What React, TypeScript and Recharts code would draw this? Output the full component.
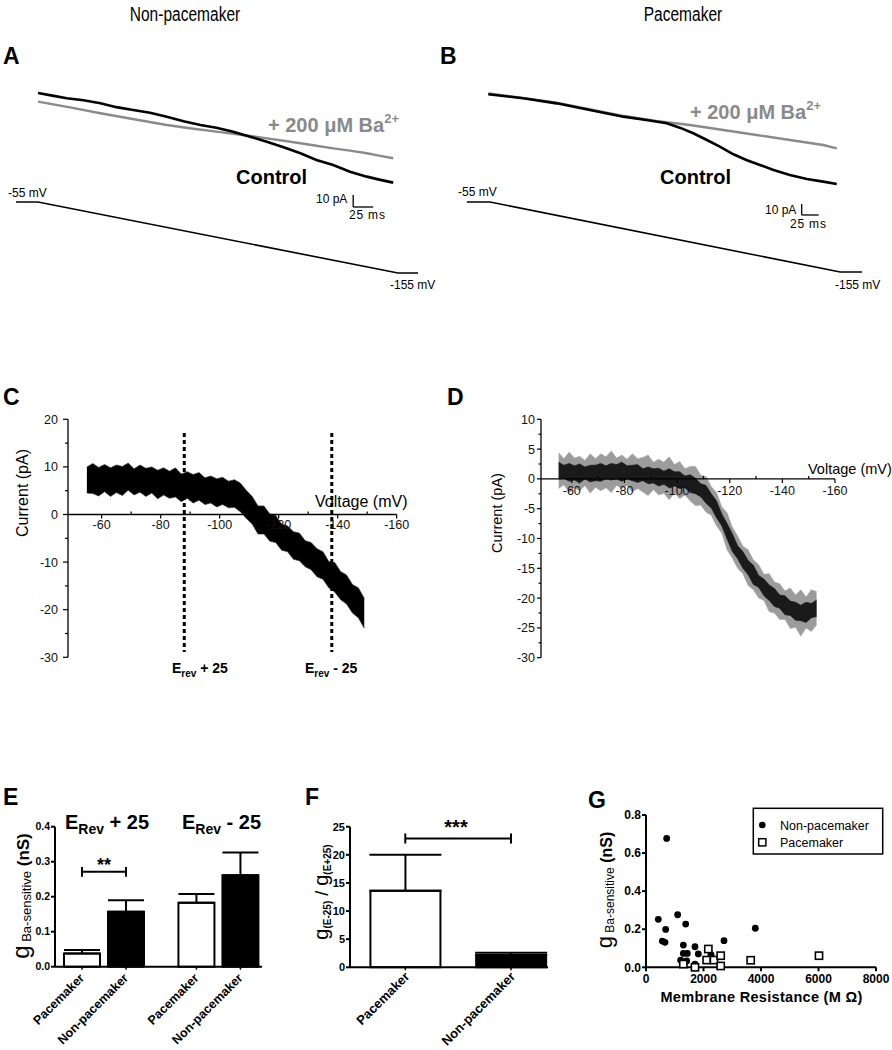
import React from "react";
import {
  Area,
  Bar,
  BarChart,
  Cell,
  ComposedChart,
  ErrorBar,
  Line,
  LineChart,
  ReferenceDot,
  ReferenceLine,
  Scatter,
  ScatterChart,
  XAxis,
  YAxis,
} from "recharts";

const FONT = "'Liberation Sans', Arial, Helvetica, sans-serif";

// ---- A: non-pacemaker ramp currents (t in ms from ramp start, I in pA, relative)
const aControlT = [0, 18, 36, 57, 78, 98, 119, 140, 161, 182, 203, 223, 244, 265, 286, 307, 328, 348, 369, 390, 411, 428, 444];
const aControlI = [0, -2.2, -4.4, -6.0, -8.6, -11.8, -14.2, -16.4, -19.7, -23.6, -26.7, -29.0, -32.2, -36.4, -40.6, -45.2, -50.2, -55.8, -60.0, -65.6, -69.7, -72.4, -74.7];
const aBariumT = [0, 40, 78, 120, 161, 192, 223, 244, 265, 286, 307, 328, 348, 369, 390, 411, 428, 444];
const aBariumI = [-7.2, -12.0, -16.9, -21.9, -26.7, -29.6, -32.2, -34.0, -35.8, -37.8, -39.8, -41.9, -44.0, -46.1, -48.0, -50.2, -52.4, -54.4];

// ---- B: pacemaker ramp currents
const bControlT = [-2.5, 49, 98, 147, 196, 230, 260, 279, 299, 319, 338, 358, 377, 397, 417, 441, 466, 490, 510];
const bControlI = [-0.3, -3.9, -8.5, -14.5, -20.6, -23.6, -26.6, -30.6, -35.7, -41.8, -47.9, -54.8, -60.0, -64.5, -69.1, -73.6, -77.3, -79.7, -81.8];
const bBariumT = [-2.5, 98, 196, 245, 294, 343, 392, 441, 490, 510];
const bBariumI = [0.6, -7.9, -20.0, -24.5, -28.2, -32.7, -37.3, -41.8, -46.4, -49.4];

// voltage command: hold -55 mV, ramp to -155 mV
const rampV = [-55, -55, -155, -155];
const aRampT = [-27.5, 0, 450, 475];
const bRampT = [-34, 0, 515, 547];

// ---- C: non-pacemaker Ba-sensitive I-V
const cVolt = [-55, -57, -59, -61, -63, -65, -67, -69, -71, -73, -75, -77, -79, -81, -83, -85, -87, -89, -91, -93, -95, -97, -99, -101, -103, -105, -107, -109, -111, -113, -115, -117, -119, -121, -123, -125, -127, -129, -131, -133, -135, -137, -139, -141, -143, -145, -147, -149];
const cMean = [7.0, 7.2, 7.3, 7.3, 7.4, 7.4, 7.5, 7.5, 7.4, 7.3, 7.2, 7.0, 6.9, 6.7, 6.6, 6.4, 6.2, 6.0, 5.8, 5.5, 5.3, 5.1, 4.9, 4.7, 4.5, 4.3, 3.9, 2.2, 0.6, -0.8, -1.6, -2.4, -3.3, -4.4, -5.3, -6.2, -7.1, -8.0, -8.9, -9.8, -11.0, -12.3, -13.6, -14.7, -16.0, -17.3, -18.8, -20.4];
const cHi = [3.0, 3.5, 2.6, 3.2, 2.4, 3.0, 2.6, 3.3, 2.2, 3.1, 2.5, 3.0, 2.4, 3.1, 2.5, 3.4, 2.3, 3.0, 2.6, 3.3, 2.4, 3.0, 2.6, 3.1, 2.5, 3.0, 2.7, 2.9, 3.2, 2.6, 3.4, 2.5, 3.1, 2.4, 2.9, 2.6, 3.2, 2.5, 3.0, 2.6, 3.2, 2.4, 3.5, 2.7, 3.3, 2.6, 3.4, 2.8];
const cLo = [2.5, 2.8, 3.4, 2.5, 3.6, 2.8, 3.5, 2.4, 3.3, 2.6, 3.4, 2.5, 3.6, 2.6, 3.2, 2.7, 3.5, 2.6, 3.4, 2.5, 3.2, 2.7, 3.3, 2.6, 3.1, 2.8, 3.3, 3.0, 2.6, 3.3, 2.5, 3.2, 2.6, 3.1, 2.5, 3.2, 2.6, 3.0, 2.7, 3.3, 2.6, 3.1, 2.7, 3.2, 2.8, 3.4, 2.9, 3.5];
const cErevLines = [-88, -138];

// ---- D: pacemaker Ba-sensitive I-V
const dVolt = [-55, -57, -59, -61, -63, -65, -67, -69, -71, -73, -75, -77, -79, -81, -83, -85, -87, -89, -91, -93, -95, -97, -99, -101, -103, -105, -107, -109, -111, -113, -115, -117, -119, -121, -123, -125, -127, -129, -131, -133, -135, -137, -139, -141, -143, -145, -147, -149, -151, -153];
const dMean = [1.4, 1.2, 1.1, 1.0, 0.9, 1.0, 0.9, 1.0, 1.1, 1.1, 1.2, 1.2, 1.2, 1.1, 1.0, 0.9, 0.7, 0.6, 0.5, 0.3, 0.2, 0.1, 0.0, -0.2, -0.5, -0.8, -1.2, -1.9, -2.6, -3.7, -5.1, -6.9, -8.8, -10.7, -12.3, -13.6, -14.9, -16.1, -17.2, -18.2, -19.1, -19.9, -20.6, -21.2, -21.7, -22.2, -22.5, -22.4, -22.1, -21.7];
const dCore = [1.4, 1.1, 1.5, 1.2, 1.6, 1.0, 1.4, 1.3, 1.5, 1.1, 1.4, 1.2, 1.6, 1.1, 1.3, 1.5, 1.0, 1.4, 1.2, 1.5, 1.1, 1.6, 1.2, 1.4, 1.0, 1.5, 1.3, 1.1, 1.5, 1.2, 1.4, 1.0, 1.3, 1.5, 1.1, 1.4, 1.2, 1.6, 1.0, 1.4, 1.3, 1.5, 1.1, 1.6, 1.2, 1.5, 1.3, 1.7, 1.2, 1.4];
const dFuzz = [3.0, 2.2, 3.4, 2.5, 2.9, 2.1, 3.3, 2.4, 3.1, 2.6, 3.5, 2.3, 2.8, 2.2, 3.2, 2.5, 2.9, 3.4, 2.3, 3.0, 2.6, 3.6, 2.4, 3.1, 2.2, 2.9, 3.3, 2.5, 3.0, 2.4, 2.8, 2.2, 3.1, 2.6, 2.7, 2.3, 3.0, 2.5, 2.8, 2.2, 3.2, 2.6, 3.0, 2.4, 3.4, 2.7, 3.9, 2.6, 3.5, 2.8];

// ---- E: Ba-sensitive conductance at Erev+25 and Erev-25
const eLabels = ["Pacemaker", "Non-pacemaker", "Pacemaker", "Non-pacemaker"];
const ePos = [0, 1, 2.6, 3.6];
const eMean = [0.038, 0.157, 0.183, 0.261];
const eSem = [0.01, 0.033, 0.025, 0.065];
const eFill = ["#ffffff", "#000000", "#ffffff", "#000000"];

// ---- F: conductance ratio
const fLabels = ["Pacemaker", "Non-pacemaker"];
const fPos = [0, 1];
const fMean = [13.6, 2.2];
const fSem = [6.4, 0.4];
const fFill = ["#ffffff", "#000000"];

// ---- G: conductance vs membrane resistance
const npR = [428, 719, 568, 661, 684, 1101, 1380, 1299, 1704, 1299, 1437, 1820, 2261, 2713, 3802, 1206, 1415, 1704];
const npG = [0.252, 0.677, 0.138, 0.131, 0.199, 0.276, 0.227, 0.117, 0.108, 0.073, 0.073, 0.07, 0.066, 0.14, 0.205, 0.037, 0.033, 0.017];
const pR = [1299, 1704, 2168, 2110, 2365, 2598, 2598, 3641, 6017];
const pG = [0.017, 0.0, 0.096, 0.038, 0.038, 0.061, 0.007, 0.037, 0.061];

const zip = (xs: number[], ys: number[], xk: string, yk: string) =>
  xs.map((x, k) => ({ [xk]: x, [yk]: ys[k] }));

function yTick(gap: number, majorEvery: number, majorLen: number, minorLen: number, fontSize: number) {
  return (p: any) => {
    const v = p.payload.value as number;
    const major = Math.abs(v % majorEvery) < 1e-6;
    const ax = p.x + gap;
    return (
      <g>
        <line x1={ax} x2={ax - (major ? majorLen : minorLen)} y1={p.y} y2={p.y} stroke="#000" strokeWidth={1.2} />
        {major && (
          <text x={p.x} y={p.y + fontSize * 0.36} textAnchor="end" fontSize={fontSize} fontFamily={FONT} fill="#111">
            {v}
          </text>
        )}
      </g>
    );
  };
}

function xTickDot(label: string | null, len: number, dy: number, fontSize: number) {
  return (p: any) => (
    <g>
      <line x1={p.cx} x2={p.cx} y1={p.cy} y2={p.cy + len} stroke="#000" strokeWidth={1.2} />
      {label && (
        <text x={p.cx} y={p.cy + dy} textAnchor="middle" fontSize={fontSize} fontFamily={FONT} fill="#111">
          {label}
        </text>
      )}
    </g>
  );
}

function slantTick(labels: string[], positions: number[], fontSize: number, dx: number, dy: number) {
  return (p: any) => {
    const idx = positions.indexOf(p.payload.value);
    const x = p.x + dx;
    const y = p.y + dy;
    return (
      <text x={x} y={y} transform={`rotate(-45 ${x} ${y})`} textAnchor="end" fontSize={fontSize} fontWeight="bold" fontFamily={FONT} fill="#000">
        {labels[idx]}
      </text>
    );
  };
}

type TraceProps = {
  left: number;
  width: number;
  xDomain: [number, number];
  iDomain: [number, number];
  vDomain: [number, number];
  control: { t: number; i: number }[];
  barium: { t: number; i: number }[];
  ramp: { t: number; v: number }[];
  barT: number;
  barI: number;
};

function TracePanel({ left, width, xDomain, iDomain, vDomain, control, barium, ramp, barT, barI }: TraceProps) {
  return (
    <div style={{ position: "absolute", left, top: 80 }}>
      <LineChart width={width} height={220} margin={{ top: 0, right: 0, bottom: 0, left: 0 }}>
        <XAxis type="number" dataKey="t" domain={xDomain} hide allowDataOverflow />
        <YAxis yAxisId="i" type="number" domain={iDomain} hide allowDataOverflow />
        <YAxis yAxisId="v" type="number" domain={vDomain} hide allowDataOverflow />
        <Line yAxisId="v" data={ramp} dataKey="v" stroke="#000" strokeWidth={1.6} dot={false} isAnimationActive={false} />
        <Line yAxisId="i" data={barium} dataKey="i" stroke="#8a8a8a" strokeWidth={2.4} dot={false} isAnimationActive={false} />
        <Line yAxisId="i" data={control} dataKey="i" stroke="#000" strokeWidth={2.6} dot={false} isAnimationActive={false} />
        <ReferenceLine yAxisId="i" segment={[{ x: barT, y: barI }, { x: barT, y: barI - 10 }]} stroke="#000" strokeWidth={1.3} />
        <ReferenceLine yAxisId="i" segment={[{ x: barT, y: barI - 10 }, { x: barT + 25, y: barI - 10 }]} stroke="#000" strokeWidth={1.3} />
      </LineChart>
    </div>
  );
}

function Sub({ x, y, main, sub, rest, size, subSize, shift }: any) {
  return (
    <text x={x} y={y} fontFamily={FONT} fontWeight="bold" fontSize={size} fill="#000">
      {main}
      <tspan fontSize={subSize} dy={shift}>{sub}</tspan>
      <tspan fontSize={size} dy={-shift}>{rest}</tspan>
    </text>
  );
}

export default function App() {
  const aControl = aControlT.map((t, k) => ({ t, i: aControlI[k] }));
  const aBarium = aBariumT.map((t, k) => ({ t, i: aBariumI[k] }));
  const bControl = bControlT.map((t, k) => ({ t, i: bControlI[k] }));
  const bBarium = bBariumT.map((t, k) => ({ t, i: bBariumI[k] }));
  const aRamp = aRampT.map((t, k) => ({ t, v: rampV[k] }));
  const bRamp = bRampT.map((t, k) => ({ t, v: rampV[k] }));

  const cRows = cVolt.map((v, k) => ({ v, band: [cMean[k] - cLo[k], cMean[k] + cHi[k]] }));
  const dRows = dVolt.map((v, k) => ({
    v,
    fuzz: [dMean[k] - dFuzz[k], dMean[k] + dFuzz[k]],
    core: [dMean[k] - dCore[k], dMean[k] + dCore[k]],
  }));

  const eRows = ePos.map((pos, k) => ({ pos, mean: eMean[k], err: [0, eSem[k]] }));
  const fRows = fPos.map((pos, k) => ({ pos, mean: fMean[k], err: [0, fSem[k]] }));
  const npRows = zip(npR, npG, "r", "g");
  const pRows = zip(pR, pG, "r", "g");

  const bold = { fontSize: 11, fontWeight: "bold", fill: "#000", fontFamily: FONT } as const;

  return (
    <div style={{ position: "absolute", left: 0, top: 0, width: 892, height: 1050, background: "#fff", overflow: "hidden", fontFamily: FONT }}>
      {/* A */}
      <TracePanel
        left={0}
        width={440}
        xDomain={[-47.5, 502.5]}
        iDomain={[-172.5, 10.83]}
        vDomain={[-193, 116.8]}
        control={aControl}
        barium={aBarium}
        ramp={aRamp}
        barT={394}
        barI={-85}
      />
      {/* B */}
      <TracePanel
        left={440}
        width={452}
        xDomain={[-73.5, 591.2]}
        iDomain={[-187.3, 12.73]}
        vDomain={[-195, 119.3]}
        control={bControl}
        barium={bBarium}
        ramp={bRamp}
        barT={458.4}
        barI={-100}
      />

      {/* C */}
      <div style={{ position: "absolute", left: 0, top: 400 }}>
        <ComposedChart width={420} height={270} data={cRows} margin={{ top: 19.3, right: 23.3, bottom: 12.7, left: 18 }}>
          <XAxis type="number" dataKey="v" domain={[-160, -48.6]} reversed hide allowDataOverflow />
          <YAxis
            type="number"
            domain={[-30, 20]}
            ticks={[-30, -25, -20, -15, -10, -5, 0, 5, 10, 15, 20]}
            interval={0}
            width={50}
            tickSize={5}
            tickMargin={5}
            tickLine={false}
            axisLine={{ stroke: "#000", strokeWidth: 1.3 }}
            tick={yTick(10, 10, 5, 3, 12.5)}
            allowDataOverflow
          />
          <ReferenceLine y={0} stroke="#000" strokeWidth={1.3} />
          {[-60, -80, -100, -120, -140, -160].map((v) => (
            <ReferenceDot key={v} x={v} y={0} r={0} shape={xTickDot(String(v), 4, 14, 12.5)} />
          ))}
          {[-70, -90, -110, -130, -150].map((v) => (
            <ReferenceDot key={v} x={v} y={0} r={0} shape={xTickDot(null, -3, 0, 12)} />
          ))}
          <Area dataKey="band" type="linear" stroke="#333" strokeWidth={0.7} fill="#000" fillOpacity={1} dot={false} activeDot={false} isAnimationActive={false} />
          {cErevLines.map((v) => (
            <ReferenceLine key={v} segment={[{ x: v, y: 17.1 }, { x: v, y: -28.9 }]} stroke="#000" strokeWidth={3} strokeDasharray="4 3" />
          ))}
        </ComposedChart>
      </div>

      {/* D */}
      <div style={{ position: "absolute", left: 440, top: 400 }}>
        <ComposedChart width={452} height={270} data={dRows} margin={{ top: 19.3, right: 57, bottom: 12.3, left: 51 }}>
          <XAxis type="number" dataKey="v" domain={[-160, -48.3]} reversed hide allowDataOverflow />
          <YAxis
            type="number"
            domain={[-30, 10]}
            ticks={[-30, -27.5, -25, -22.5, -20, -17.5, -15, -12.5, -10, -7.5, -5, -2.5, 0, 2.5, 5, 7.5, 10]}
            interval={0}
            width={50}
            tickSize={4}
            tickMargin={2}
            tickLine={false}
            axisLine={{ stroke: "#000", strokeWidth: 1.3 }}
            tick={yTick(6, 5, 4, 2.5, 12.5)}
            allowDataOverflow
          />
          <ReferenceLine y={0} stroke="#000" strokeWidth={1.3} />
          <Area dataKey="fuzz" type="linear" stroke="#a8a8a8" strokeWidth={0.6} fill="#9c9c9c" fillOpacity={1} dot={false} activeDot={false} isAnimationActive={false} />
          <Area dataKey="core" type="linear" stroke="#1a1a1a" strokeWidth={0.6} fill="#1a1a1a" fillOpacity={1} dot={false} activeDot={false} isAnimationActive={false} />
          {[-60, -80, -100, -120, -140, -160].map((v) => (
            <ReferenceDot key={v} x={v} y={0} r={0} shape={xTickDot(String(v), 4, 16, 12.5)} />
          ))}
          {[-70, -90, -110, -130, -150].map((v) => (
            <ReferenceDot key={v} x={v} y={0} r={0} shape={xTickDot(null, -3, 0, 12)} />
          ))}
        </ComposedChart>
      </div>

      {/* E */}
      <div style={{ position: "absolute", left: 0, top: 800 }}>
        <BarChart width={280} height={250} data={eRows} margin={{ top: 26.7, right: 18, bottom: 13.3, left: 25 }}>
          <XAxis
            type="number"
            dataKey="pos"
            domain={[-0.614, 4.09]}
            ticks={ePos}
            interval={0}
            height={70}
            tickSize={3}
            tickMargin={2}
            axisLine={{ stroke: "#000", strokeWidth: 2 }}
            tickLine={{ stroke: "#000", strokeWidth: 1.5 }}
            tick={slantTick(eLabels, ePos, 12.5, 3, 7)}
            allowDataOverflow
          />
          <YAxis
            type="number"
            domain={[0, 0.4]}
            ticks={[0, 0.1, 0.2, 0.3, 0.4]}
            interval={0}
            width={30}
            tickSize={4}
            tickMargin={1}
            tickFormatter={(v: number) => v.toFixed(1)}
            tick={{ ...bold, fontSize: 10.5 }}
            axisLine={{ stroke: "#000", strokeWidth: 2 }}
            tickLine={{ stroke: "#000", strokeWidth: 2 }}
          />
          <Bar dataKey="mean" barSize={36} stroke="#000" strokeWidth={2} isAnimationActive={false}>
            {eRows.map((r, k) => (
              <Cell key={k} fill={eFill[k]} />
            ))}
            <ErrorBar dataKey="err" width={18} stroke="#000" strokeWidth={2} direction="y" />
          </Bar>
          <ReferenceLine segment={[{ x: 0, y: 0.271 }, { x: 1, y: 0.271 }]} stroke="#000" strokeWidth={2} />
          <ReferenceLine segment={[{ x: 0, y: 0.257 }, { x: 0, y: 0.285 }]} stroke="#000" strokeWidth={2} />
          <ReferenceLine segment={[{ x: 1, y: 0.257 }, { x: 1, y: 0.285 }]} stroke="#000" strokeWidth={2} />
        </BarChart>
      </div>

      {/* F */}
      <div style={{ position: "absolute", left: 290, top: 800 }}>
        <BarChart width={270} height={250} data={fRows} margin={{ top: 26.7, right: 12, bottom: 12.7, left: 30 }}>
          <XAxis
            type="number"
            dataKey="pos"
            domain={[-0.523, 1.35]}
            ticks={fPos}
            interval={0}
            height={70}
            tickSize={3}
            tickMargin={2}
            axisLine={{ stroke: "#000", strokeWidth: 2 }}
            tickLine={{ stroke: "#000", strokeWidth: 1.5 }}
            tick={slantTick(fLabels, fPos, 13, 5, 5)}
            allowDataOverflow
          />
          <YAxis
            type="number"
            domain={[0, 25]}
            ticks={[0, 5, 10, 15, 20, 25]}
            interval={0}
            width={30}
            tickSize={4}
            tickMargin={1}
            tick={bold}
            axisLine={{ stroke: "#000", strokeWidth: 2 }}
            tickLine={{ stroke: "#000", strokeWidth: 2 }}
          />
          <Bar dataKey="mean" barSize={70} stroke="#000" strokeWidth={2} isAnimationActive={false}>
            {fRows.map((r, k) => (
              <Cell key={k} fill={fFill[k]} />
            ))}
            <ErrorBar dataKey="err" width={36} stroke="#000" strokeWidth={2} direction="y" />
          </Bar>
          <ReferenceLine segment={[{ x: 0, y: 22.9 }, { x: 1, y: 22.9 }]} stroke="#000" strokeWidth={2} />
          <ReferenceLine segment={[{ x: 0, y: 22.0 }, { x: 0, y: 23.8 }]} stroke="#000" strokeWidth={2} />
          <ReferenceLine segment={[{ x: 1, y: 22.0 }, { x: 1, y: 23.8 }]} stroke="#000" strokeWidth={2} />
        </BarChart>
      </div>

      {/* G */}
      <div style={{ position: "absolute", left: 560, top: 800 }}>
        <ScatterChart width={332} height={250} margin={{ top: 15, right: 16, bottom: 57.7, left: 46 }}>
          <XAxis
            type="number"
            dataKey="r"
            domain={[0, 8000]}
            ticks={[0, 2000, 4000, 6000, 8000]}
            interval={0}
            height={25}
            tickSize={4}
            tickMargin={3}
            tick={{ ...bold, fontSize: 12 }}
            axisLine={{ stroke: "#000", strokeWidth: 2 }}
            tickLine={{ stroke: "#000", strokeWidth: 2 }}
          />
          <YAxis
            type="number"
            dataKey="g"
            domain={[0, 0.8]}
            ticks={[0, 0.2, 0.4, 0.6, 0.8]}
            interval={0}
            width={40}
            tickSize={4}
            tickMargin={1}
            tickFormatter={(v: number) => v.toFixed(1)}
            tick={{ ...bold, fontSize: 12 }}
            axisLine={{ stroke: "#000", strokeWidth: 2 }}
            tickLine={{ stroke: "#000", strokeWidth: 2 }}
          />
          <Scatter
            data={npRows}
            isAnimationActive={false}
            shape={(p: any) => <circle cx={p.cx} cy={p.cy} r={3.4} fill="#000" />}
          />
          <Scatter
            data={pRows}
            isAnimationActive={false}
            shape={(p: any) => <rect x={p.cx - 3.6} y={p.cy - 3.6} width={7.2} height={7.2} fill="#fff" stroke="#000" strokeWidth={1.6} />}
          />
        </ScatterChart>
      </div>

      {/* annotations */}
      <svg width={892} height={1050} style={{ position: "absolute", left: 0, top: 0, pointerEvents: "none" }}>
        <g fontFamily={FONT}>
          <text transform="translate(185 21) scale(0.74 1)" textAnchor="middle" fontSize={21} fill="#000">Non-pacemaker</text>
          <text transform="translate(683 21) scale(0.74 1)" textAnchor="middle" fontSize={21} fill="#000">Pacemaker</text>

          <g fontSize={23} fontWeight="bold" fill="#000">
            <text x={3} y={64}>A</text>
            <text x={440} y={64}>B</text>
            <text x={3} y={405}>C</text>
            <text x={447} y={405}>D</text>
            <text x={3} y={805}>E</text>
            <text x={305} y={805}>F</text>
            <text x={588} y={808}>G</text>
          </g>

          {/* A annotations */}
          <text x={268} y={132} fontSize={20} fontWeight="bold" fill="#8a8a8a">
            + 200 μM Ba<tspan fontSize={13} dy={-9}>2+</tspan>
          </text>
          <text x={236} y={184} fontSize={20} fontWeight="bold">Control</text>
          <text x={316} y={203} fontSize={12}>10 pA</text>
          <text x={349} y={219} fontSize={12} letterSpacing={0.8}>25 ms</text>
          <text x={8} y={197} fontSize={12}>-55 mV</text>
          <text x={390} y={289} fontSize={12}>-155 mV</text>

          {/* B annotations */}
          <text x={690} y={119} fontSize={20} fontWeight="bold" fill="#8a8a8a">
            + 200 μM Ba<tspan fontSize={13} dy={-9}>2+</tspan>
          </text>
          <text x={660} y={184} fontSize={20} fontWeight="bold">Control</text>
          <text x={765} y={214} fontSize={12}>10 pA</text>
          <text x={790} y={228} fontSize={12} letterSpacing={0.8}>25 ms</text>
          <text x={458} y={196} fontSize={12}>-55 mV</text>
          <text x={835} y={289} fontSize={12}>-155 mV</text>

          {/* C / D axis titles */}
          <text x={315} y={507} fontSize={16}>Voltage (mV)</text>
          <text transform="translate(28 493) rotate(-90)" textAnchor="middle" fontSize={16}>Current (pA)</text>
          <Sub x={172} y={672.5} main="E" sub="rev" rest=" + 25" size={14} subSize={10} shift={4} />
          <Sub x={305} y={672.5} main="E" sub="rev" rest=" - 25" size={14} subSize={10} shift={4} />
          <text x={808} y={474} fontSize={14.5}>Voltage (mV)</text>
          <text transform="translate(502 513) rotate(-90)" textAnchor="middle" fontSize={14.5}>Current (pA)</text>

          {/* E annotations */}
          <Sub x={65} y={829} main="E" sub="Rev" rest=" + 25" size={20} subSize={14} shift={5} />
          <Sub x={182} y={829} main="E" sub="Rev" rest=" - 25" size={20} subSize={14} shift={5} />
          <text x={104} y={871} textAnchor="middle" fontSize={18} fontWeight="bold">**</text>
          <text transform="translate(29 896) rotate(-90)" textAnchor="middle">
            <tspan fontSize={24}>g</tspan>
            <tspan fontSize={13} dy={2}> Ba-sensitive</tspan>
            <tspan fontSize={17} fontWeight="bold" dy={-2}> (nS)</tspan>
          </text>

          {/* F annotations */}
          <text x={456} y={834} textAnchor="middle" fontSize={20} fontWeight="bold">***</text>
          <text transform="translate(328 892) rotate(-90)" textAnchor="middle">
            <tspan fontSize={20}>g</tspan>
            <tspan fontSize={10} fontWeight="bold" dy={3}>(E-25)</tspan>
            <tspan fontSize={18} dy={-3}> / </tspan>
            <tspan fontSize={20}>g</tspan>
            <tspan fontSize={10} fontWeight="bold" dy={3}>(E+25)</tspan>
          </text>

          {/* G annotations */}
          <text transform="translate(612 890) rotate(-90)" textAnchor="middle">
            <tspan fontSize={22}>g</tspan>
            <tspan fontSize={12} dy={2}> Ba-sensitive</tspan>
            <tspan fontSize={16} fontWeight="bold" dy={-2}> (nS)</tspan>
          </text>
          <text x={761.5} y={1002} textAnchor="middle" fontSize={14.5} fontWeight="bold" letterSpacing={0.3}>Membrane Resistance (M Ω)</text>
          <rect x={753.3} y={808.3} width={129.4} height={45.7} fill="#fff" stroke="#000" strokeWidth={1.5} />
          <circle cx={762.3} cy={825} r={3.3} fill="#000" />
          <text x={780} y={829.5} fontSize={12.5}>Non-pacemaker</text>
          <rect x={758.7} y={838.7} width={7.2} height={7.2} fill="#fff" stroke="#000" strokeWidth={1.5} />
          <text x={780} y={847} fontSize={12.5}>Pacemaker</text>
        </g>
      </svg>
    </div>
  );
}
